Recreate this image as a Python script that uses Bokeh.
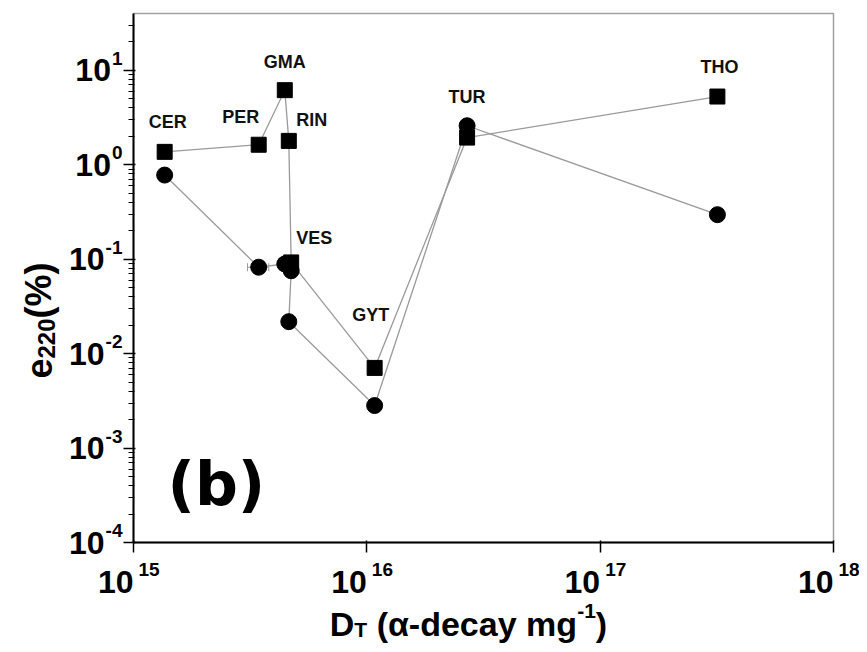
import math
from bokeh.plotting import figure
from bokeh.models import (ColumnDataSource, LabelSet, FixedTicker, Range1d,
                          Whisker, TeeHead, CustomJSTickFormatter)
from bokeh.embed import file_html
from bokeh.resources import INLINE
from bokeh.core.properties import value

# ---------------- data ----------------
samples = ["CER", "PER", "GMA", "RIN", "VES", "GYT", "TUR", "THO"]
dose = [1.36e15, 3.44e15, 4.45e15, 4.63e15, 4.74e15, 1.08e16, 2.69e16, 3.18e17]
e_square = [1.37, 1.63, 6.17, 1.79, 0.0925, 0.00706, 1.94, 5.28]
e_circle = [0.778, 0.0823, 0.089, 0.0218, 0.0755, 0.00282, 2.59, 0.296]
circle_path = ["CER", "PER", "GMA", "VES", "RIN", "GYT", "TUR", "THO"]
per_dose_err = [3.08e15, 3.80e15]

x_ticks = [1e15, 1e16, 1e17, 1e18]
x_exponents = ["15", "16", "17", "18"]
y_ticks = [1e-4, 1e-3, 1e-2, 1e-1, 1e0, 1e1]
y_exponents = ["-4", "-3", "-2", "-1", "0", "1"]
y_minor = [m * 10.0 ** k for k in range(-4, 2) for m in range(2, 10) if m * 10.0 ** k < 40]

# label placement (pixels, layout only)
label_dx = [3, -18, 0, 23, 23, -4, 0, 2]
label_dy = [30, 28, 28, 21, 24, 53, 41, 30]

FONT = "Liberation Sans"
GRAY = "#9a9a9a"

W = {' ': 0.278, '(': 0.333, ')': 0.333, '-': 0.333, '%': 0.889, 'D': 0.722, 'T': 0.611,
     'e': 0.556, 'd': 0.611, 'c': 0.556, 'a': 0.556, 'y': 0.556, 'm': 0.889, 'g': 0.611,
     'α': 0.62}
for ch in "0123456789":
    W[ch] = 0.556


def tw(s, size):
    return sum(W.get(c, 0.6) for c in s) * size


FL, FT, FR, FB = 133, 13, 833, 542   # frame edges in figure pixels (layout)

p = figure(width=859, height=644, x_axis_type="log", y_axis_type="log",
           x_range=Range1d(1e15, 1e18), y_range=Range1d(1e-4, 40),
           output_backend="svg", toolbar_location=None,
           min_border_left=FL, min_border_right=859 - FR, min_border_top=FT,
           min_border_bottom=644 - FB)
p.grid.visible = False
p.outline_line_color = "#a0a0a0"
p.outline_line_width = 1.5
p.xaxis.ticker = FixedTicker(ticks=x_ticks, minor_ticks=[])
p.yaxis.ticker = FixedTicker(ticks=y_ticks, minor_ticks=y_minor)
for ax in (p.xaxis[0], p.yaxis[0]):
    ax.formatter = CustomJSTickFormatter(code="return ''")
    ax.axis_line_color = "black"
    ax.axis_line_width = 2
    ax.major_tick_line_color = "black"
    ax.major_tick_line_width = 1.5
    ax.minor_tick_line_color = "black"
    ax.minor_tick_line_width = 1.2
    ax.major_tick_in = 2
    ax.major_tick_out = 10
    ax.minor_tick_in = 1
    ax.minor_tick_out = 5
    ax.major_label_standoff = 0

# ---------------- lines ----------------
order = [samples.index(s) for s in circle_path]
p.line(dose, e_square, line_color=GRAY, line_width=1.3)
p.line([dose[i] for i in order], [e_circle[i] for i in order], line_color=GRAY, line_width=1.3)

err_src = ColumnDataSource(dict(base=[e_circle[1]], lower=[per_dose_err[0]], upper=[per_dose_err[1]]))
p.add_layout(Whisker(source=err_src, base="base", lower="lower", upper="upper", dimension="width",
                     line_color=GRAY, line_width=1,
                     upper_head=TeeHead(size=8, line_color=GRAY, line_width=1),
                     lower_head=TeeHead(size=8, line_color=GRAY, line_width=1)))

# ---------------- markers ----------------
p.scatter(dose, e_square, marker="square", size=15, fill_color="black", line_color="black")
p.scatter(dose, e_circle, marker="circle", size=16, fill_color="black", line_color="black")

# sample labels
lab_src = ColumnDataSource(dict(x=dose, y=e_square, t=samples, dx=label_dx, dy=label_dy))
p.add_layout(LabelSet(source=lab_src, x="x", y="y", text="t", x_offset="dx", y_offset="dy",
                      text_align="center", text_baseline="middle", text_font=value(FONT),
                      text_font_style="bold", text_font_size="18px", text_color="#111111"))


def txt(x, y, text, size, dx, dy, align="left", baseline="alphabetic", angle=0.0, font=FONT):
    """text drawn at data anchor (x, y) shifted by pixel offsets (dy positive = down)."""
    p.text(x=x, y=y, text=text, x_offset=dx, y_offset=dy, angle=angle,
           text_font=value(font), text_font_style="bold", text_font_size=f"{size}px",
           text_align=align, text_baseline=baseline, text_color="black", level="overlay")


# ---------------- tick labels ----------------
TS, ES = 32, 19
n = len(y_ticks)
txt([x_ticks[0]] * n, y_ticks, ["10"] * n, TS, [-11 - tw(e, ES) - 1 for e in y_exponents], 0,
    align="right", baseline="middle")
txt([x_ticks[0]] * n, y_ticks, y_exponents, ES, -11, -12, align="right", baseline="middle")
m = len(x_ticks)
txt(x_ticks, [y_ticks[0]] * m, ["10"] * m, TS, 0, 39, align="right", baseline="middle")
txt(x_ticks, [y_ticks[0]] * m, x_exponents, ES, 5, 27, align="left", baseline="middle")

# ---------------- axis titles ----------------
XT, XS = 34, 21
x_runs = [("D", XT, 0, 0), ("T", XS, 6, 0), ("(α-decay mg", XT, 0, tw(" ", XT)),
          ("-1", XS, -13, 0), (")", XT, 0, 0)]
total = sum(tw(s, sz) + gap for s, sz, sh, gap in x_runs)
cur = (468 - FL) - total / 2
for s, sz, sh, gap in x_runs:
    cur += gap
    txt([x_ticks[0]], [y_ticks[0]], [s], sz, cur, (623 - FB) + sh)
    cur += tw(s, sz)

YT, YS = 36, 24
y_runs = [("e", YT, 0), ("220", YS, 8), ("(%)", YT, 0)]
L = sum(tw(s, sz) for s, sz, sh in y_runs)
cur = (320 + L / 2) - FB          # pixel offset below frame bottom where text starts
for s, sz, sh in y_runs:
    txt([x_ticks[0]], [y_ticks[0]], [s], sz, (38 - FL) + sh, cur, angle=math.pi / 2)
    cur -= tw(s, sz)

txt([x_ticks[0]], [y_ticks[0]], ["(b)"], 60, 167 - FL, 483 - FB, baseline="middle",
    font="DejaVu Sans")

open("out.html", "w").write(file_html(p, INLINE))
